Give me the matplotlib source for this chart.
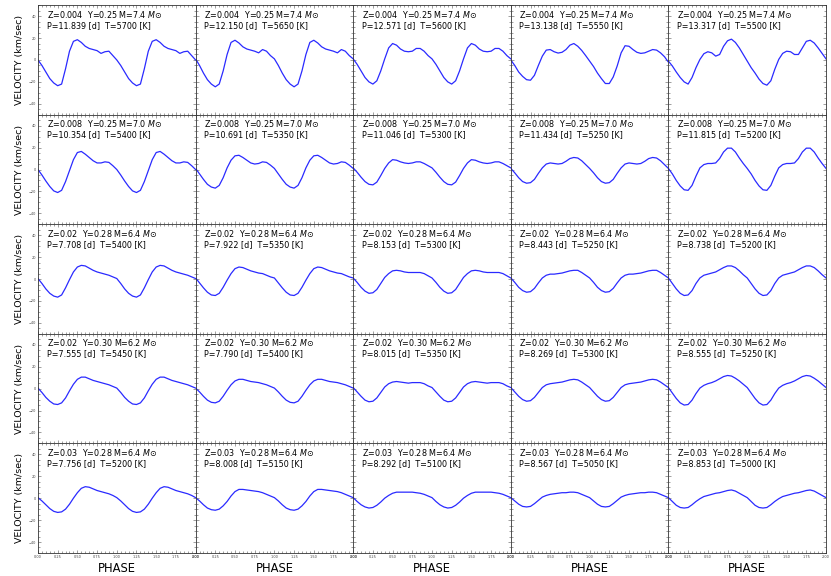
import numpy as np
import matplotlib
matplotlib.use("Agg")
import matplotlib.pyplot as plt
from matplotlib.ticker import MultipleLocator

# model parameters per row
row_Z = ["0.004", "0.008", "0.02", "0.02", "0.03"]
row_Y = ["0.25", "0.25", "0.28", "0.30", "0.28"]
row_M = ["7.4", "7.0", "6.4", "6.2", "6.4"]

periods = [[11.839, 12.150, 12.571, 13.138, 13.317],
           [10.354, 10.691, 11.046, 11.434, 11.815],
           [7.708, 7.922, 8.153, 8.443, 8.738],
           [7.555, 7.790, 8.015, 8.269, 8.555],
           [7.756, 8.008, 8.292, 8.567, 8.853]]
temps = [[5700, 5650, 5600, 5550, 5500],
         [5400, 5350, 5300, 5250, 5200],
         [5400, 5350, 5300, 5250, 5200],
         [5450, 5400, 5350, 5300, 5250],
         [5200, 5150, 5100, 5050, 5000]]

# velocity curves, phase step 0.05 (one cycle = 21 values, repeated;
# 41 values = both cycles read separately)
v11 = [0, -5, -11, -17, -21, -23.5, -22, -8, 8, 17, 18.5, 16, 12.5, 10.5, 9.5, 8.5, 6, 7.5, 8, 4, 0]
v12 = [1, -5, -12, -18, -22, -24.5, -22, -10, 5, 16, 18, 15.5, 12, 10, 9, 8, 6.5, 9.5, 8, 4, 1]
v13 = [1, -4, -10, -16, -20, -22, -19, -10, 1, 11, 15, 13.5, 10, 8, 7.5, 8, 10.5, 10.5, 8, 4, 1]
v14 = [0, -5, -11, -15, -18, -18.5, -14, -5, 3.5, 9, 9.5, 7.5, 6.3, 7, 9.5, 13.5, 15, 12.5, 8.7, 4,
       -1, -6, -12, -17, -21.5, -21.5, -15.5, -5.5, 6.5, 13, 12.5, 9.5, 7, 6, 6.5, 8, 9.5, 9, 6.5, 3, -2]
v15 = [-1, -5.5, -11, -16, -20, -22, -16, -7, 0.5, 5.7, 7.5, 6.5, 3.5, 5, 12.5, 17.5, 19, 16, 11, 5,
       -1, -7, -12, -17.5, -21.5, -23, -19, -8.5, 0.5, 6, 8, 7.5, 5, 5, 11, 17, 18, 15.5, 11, 6, 1]

v21 = [0, -5, -10.5, -15.5, -19.5, -21, -19, -11, -1, 9, 15.5, 16.5, 14, 11, 8, 6, 6, 7, 6.5, 3.5, 0]
v22 = [1, -4, -9, -13.5, -16, -17, -14.5, -7.5, 1.5, 8.5, 12.5, 13, 11, 8.5, 6, 5, 5.5, 7, 6.5, 4, 1]
v23 = [1.5, -2.5, -7, -11, -13.5, -14, -11.5, -5.5, 1, 6, 9, 8.5, 7, 6, 5.5, 6, 7, 7, 5.5, 3.5, 1.5]
v24 = [1, -3, -7.5, -11, -12.5, -12, -9, -3.5, 1.5, 5, 6, 5.5, 5, 5.5, 7.5, 10, 11, 10.5, 8, 4.5, 1]
v25 = [1, -4, -10, -15, -18.5, -19, -14.5, -6, 1.5, 4.5, 5.5, 5.5, 6, 10, 16, 19.5, 19.5, 16, 10.5, 5.5, 1]

v31 = [0.5, -4, -9, -13, -15.5, -16.5, -14.5, -8, -0.5, 6.5, 11, 12.5, 12, 10, 8, 6.5, 5.5, 4.5, 3.5, 2, 0.5]
v32 = [1, -3.5, -8, -12, -14.5, -15, -13, -7.5, -1, 5, 9.5, 11, 10.5, 9, 7.5, 6.5, 5.5, 5, 3.5, 2, 1]
v33 = [1, -3, -7.5, -11, -13, -12.5, -9.5, -4, 1.5, 5, 7.5, 8, 7.5, 6.5, 6, 6, 6, 6, 5, 3, 1]
v34 = [1, -3, -7.5, -10.5, -12, -11.5, -8.5, -3.5, 1, 3.5, 4.5, 4.5, 5, 5.5, 6.5, 7.5, 8, 8, 6, 3.5, 1]
v35 = [1, -4, -9, -13, -15, -14.5, -10.5, -4, 1, 3.5, 4.5, 5.5, 6.5, 8.5, 10.5, 12, 12, 10.5, 7.5, 4, 1]

v41 = [0.5, -3.5, -8, -11.5, -14, -14.5, -13, -8.5, -2, 4, 8.5, 10.5, 10.5, 9, 7.5, 6.5, 5.5, 4.5, 3.5, 2, 0.5]
v42 = [0.5, -3, -7, -10.5, -12.5, -13, -11.5, -7, -1.5, 3.5, 7, 8.5, 8.5, 7.5, 6.5, 6, 5.5, 4.5, 3.5, 2, 0.5]
v43 = [1, -3, -7, -10.5, -12, -11.5, -8.5, -3.5, 1.5, 4.5, 6, 6.5, 6, 5.5, 5, 5.5, 5.5, 5.5, 4.5, 2.5, 1]
v44 = [1, -3, -7, -10, -11.5, -11, -8, -3.5, 1, 3.5, 4.5, 5, 5.5, 6, 7, 8, 8.5, 8, 6, 3.5, 1]
v45 = [1, -4, -9, -13, -15, -14.5, -10.5, -4.5, 0.5, 3, 4.5, 5.5, 7, 9, 11, 12, 11.5, 9.5, 7, 4, 1]

v51 = [0.5, -2.5, -6, -9.5, -12, -13, -12.5, -10, -5.5, 0, 5, 9, 10.5, 10, 8.5, 7, 6, 5, 4, 2.5, 0.5]
v52 = [0.5, -2.5, -6, -9, -10.5, -11, -10, -7, -3, 2, 6, 8, 8, 7.5, 7, 6.5, 6, 5, 3.5, 2, 0.5]
v53 = [0.5, -3, -6, -8, -9, -8.5, -6.5, -3.5, 0, 2.5, 4.5, 5.5, 5.5, 5.5, 5.5, 5.5, 5, 4.5, 3.5, 2, 0.5]
v54 = [0.5, -2.5, -5.5, -7.5, -8, -7.5, -5, -2, 1, 2.5, 3.5, 4, 4.5, 5, 5, 5.5, 5.5, 5, 3.5, 2, 0.5]
v55 = [0.5, -3, -6.5, -8.5, -9, -8.5, -6, -3, -0.5, 1.5, 2.5, 3.5, 4.5, 5, 6, 7, 7.5, 6.5, 4.5, 2.5, 0.5]

curves = [[v11, v12, v13, v14, v15],
          [v21, v22, v23, v24, v25],
          [v31, v32, v33, v34, v35],
          [v41, v42, v43, v44, v45],
          [v51, v52, v53, v54, v55]]

phase = np.linspace(0, 2, 41)

fig, axes = plt.subplots(5, 5, figsize=(8.31, 5.76), dpi=100, sharex=True, sharey=True)
fig.subplots_adjust(left=0.0457, right=0.994, bottom=0.04, top=0.991, wspace=0, hspace=0)

for i in range(5):
    for j in range(5):
        ax = axes[i, j]
        c = curves[i][j]
        if len(c) == 21:
            c = c + c[1:]
        ax.plot(phase, c, color='#2a2aff', lw=0.9)
        ax.set_xlim(0, 2)
        ax.set_ylim(-50, 50)
        ax.xaxis.set_major_locator(MultipleLocator(0.25))
        ax.xaxis.set_minor_locator(MultipleLocator(0.05))
        ax.yaxis.set_major_locator(MultipleLocator(20))
        ax.yaxis.set_minor_locator(MultipleLocator(5))
        ax.tick_params(which='both', direction='in', top=True, right=True,
                       labelsize=2.5, labelcolor='#444444', pad=1.5, width=0.4, color='#555555')
        ax.tick_params(which='major', length=2.5)
        ax.tick_params(which='minor', length=1.2)
        for s in ax.spines.values():
            s.set_linewidth(0.6)
            s.set_color('#333333')
        line1 = "Z=%s  Y=%s M=%s $M$\u2299" % (row_Z[i], row_Y[i], row_M[i])
        line2 = "P=%.3f [d]  T=%d [K]" % (periods[i][j], temps[i][j])
        ax.text(0.055, 0.885, line1, transform=ax.transAxes, fontsize=5.8,
                va='baseline', ha='left')
        ax.text(0.055, 0.795, line2, transform=ax.transAxes, fontsize=5.8,
                va='baseline', ha='left')
        if j == 0:
            ax.set_ylabel("VELOCITY (km/sec)", fontsize=6.8, labelpad=3)
        if i == 4:
            ax.set_xlabel("PHASE", fontsize=8.3, labelpad=2)

fig.savefig("out.png", dpi=100)
